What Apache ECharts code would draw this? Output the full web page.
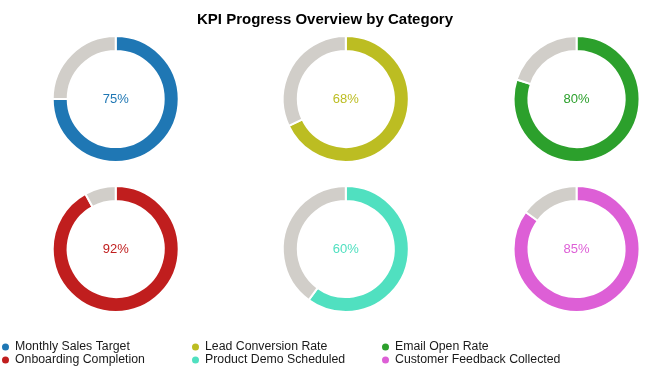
<!DOCTYPE html>
<html>
<head>
<meta charset="utf-8">
<script src="https://cdn.jsdelivr.net/npm/echarts@6/dist/echarts.min.js"></script>
<style>html,body{margin:0;padding:0;background:#fff}#c{width:650px;height:380px}</style>
</head>
<body>
<div id="c"></div>
<script>
var categories = ['Monthly Sales Target','Lead Conversion Rate','Email Open Rate','Onboarding Completion','Product Demo Scheduled','Customer Feedback Collected'];
var values = [75, 68, 80, 92, 60, 85];
var colors = ['#1f77b4','#bcbd22','#2ca02c','#c01e1e','#50e0c0','#dd5fd6'];
var remainderColor = '#d1cec9';
var centersX = ['17.8%','53.2%','88.7%'];
var centersY = [99, 249];

var chart = echarts.init(document.getElementById('c'), null, {renderer:'canvas'});
var series = categories.map(function(name, i){
  var v = values[i];
  return {
    type:'pie',
    name:name,
    radius:[48,63],
    center:[centersX[i%3], centersY[Math.floor(i/3)]],
    startAngle:90,
    clockwise:true,
    silent:true,
    itemStyle:{borderColor:'#fff', borderWidth:2},
    labelLine:{show:false},
    data:[
      {name:name, value:v, itemStyle:{color:colors[i]},
        label:{show:true, position:'center', formatter:v+'%', color:colors[i], fontSize:13, fontFamily:'Liberation Sans, Arial, sans-serif'}},
      {name:'Remaining '+i, value:100-v, itemStyle:{color:remainderColor}, label:{show:false}}
    ]
  };
});
function legend(idx, left){
  return {
    orient:'vertical',
    left:left, top:341,
    itemWidth:9, itemHeight:9, itemGap:1, icon:'circle',
    textStyle:{fontSize:12.3, lineHeight:12, color:'#1a1a1a', fontFamily:'Liberation Sans, Arial, sans-serif'},
    padding:0,
    selectedMode:false,
    data:[categories[idx], categories[idx+3]]
  };
}
chart.setOption({
  animation:false,
  color:colors,
  title:{text:'KPI Progress Overview by Category', left:'center', top:7,
    textStyle:{fontSize:15, fontWeight:'bold', color:'#000', fontFamily:'Liberation Sans, Arial, sans-serif'}},
  legend:[legend(0,0), legend(1,190), legend(2,380)],
  series:series
});
</script>
</body>
</html>
